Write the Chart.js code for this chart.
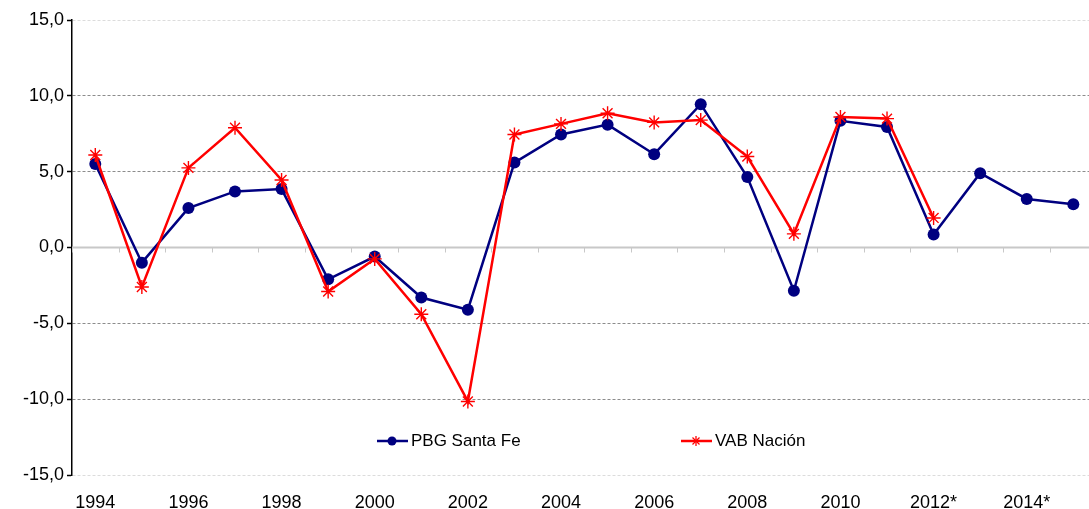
<!DOCTYPE html>
<html>
<head>
<meta charset="utf-8">
<script src="https://cdn.jsdelivr.net/npm/chart.js@4/dist/chart.umd.min.js"></script>
<style>
html,body{margin:0;padding:0;background:#fff;overflow:hidden;}
#wrap{position:relative;width:1105px;height:509px;}
.leg{position:absolute;top:431px;font:17px "Liberation Sans",Arial,sans-serif;color:#000;display:flex;align-items:center;white-space:nowrap;}
.leg svg{margin-right:3px;}
</style>
</head>
<body>
<div id="wrap">
  <canvas id="c" width="1105" height="509"></canvas>
  <div class="leg" style="left:377px"><svg width="31" height="20"><line x1="0" y1="10" x2="31" y2="10" stroke="#000080" stroke-width="2.5"/><circle cx="15" cy="10" r="4.5" fill="#000080"/></svg>PBG Santa Fe</div>
  <div class="leg" style="left:681px"><svg width="31" height="20"><line x1="0" y1="10" x2="31" y2="10" stroke="#ff0000" stroke-width="2.5"/><g stroke="#ff0000" stroke-width="1.3"><line x1="15" y1="5" x2="15" y2="15"/><line x1="10" y1="10" x2="20" y2="10"/><line x1="11.5" y1="6.5" x2="18.5" y2="13.5"/><line x1="11.5" y1="13.5" x2="18.5" y2="6.5"/></g></svg>VAB Nación</div>
</div>
<script>
const years = ['1994','1995','1996','1997','1998','1999','2000','2001','2002','2003','2004',
  '2005','2006','2007','2008','2009','2010','2011','2012*','2013*','2014*','2015*'];
const pbgSantaFe = [5.5,-1.0,2.6,3.7,3.85,-2.1,-0.6,-3.3,-4.1,5.6,7.45,
  8.1,6.15,9.45,4.65,-2.85,8.35,7.95,0.85,4.9,3.2,2.85];
const vabNacion = [6.1,-2.6,5.25,7.9,4.45,-2.9,-0.75,-4.4,-10.15,7.45,8.15,
  8.85,8.25,8.4,6.0,0.9,8.6,8.5,1.95,null,null,null];
const yTicks = [15,10,5,0,-5,-10,-15];

const FONT = '"Liberation Sans", Arial, sans-serif';

// zero axis line with small category tick marks (like Excel's crossing axis)
const zeroAxis = {
  id:'zeroAxis',
  beforeDatasetsDraw(chart){
    const ctx=chart.ctx, xs=chart.scales.x, ys=chart.scales.y;
    const y0=ys.getPixelForValue(0);
    ctx.save();
    ctx.strokeStyle='#c8c8c8';
    ctx.lineWidth=2;
    ctx.beginPath(); ctx.moveTo(xs.left,y0); ctx.lineTo(xs.right,y0); ctx.stroke();
    ctx.lineWidth=1;
    const n=years.length, w=xs.width/n;
    for(let i=0;i<=n;i++){
      const x=Math.round(xs.left+i*w)+0.5;
      ctx.beginPath(); ctx.moveTo(x,y0); ctx.lineTo(x,y0+5); ctx.stroke();
    }
    ctx.restore();
  }
};

new Chart(document.getElementById('c'),{
  type:'line',
  data:{
    labels:years,
    datasets:[
      {label:'PBG Santa Fe',data:pbgSantaFe,borderColor:'#000080',backgroundColor:'#000080',
        borderWidth:2.5,pointStyle:'circle',pointRadius:6,pointBorderWidth:0,tension:0,order:2},
      {label:'VAB Nación',data:vabNacion,borderColor:'#ff0000',backgroundColor:'#ff0000',
        borderWidth:2.5,pointStyle:'star',pointRadius:7,pointBorderWidth:1.4,tension:0,order:1}
    ]
  },
  options:{
    responsive:false,animation:false,
    layout:{padding:{top:20,right:3,left:0,bottom:0}},
    plugins:{legend:{display:false},tooltip:{enabled:false}},
    scales:{
      x:{
        offset:true,
        grid:{display:false,drawTicks:false},
        border:{display:false},
        ticks:{autoSkip:false,maxRotation:0,padding:17,color:'#000',font:{family:FONT,size:18},
          callback:function(v,i){ return i%2===0 ? years[i] : ''; }},
        afterFit:function(s){ s.height=34; }
      },
      y:{
        min:-15,max:15,
        afterBuildTicks:function(s){ s.ticks=yTicks.map(function(v){return {value:v};}); },
        grid:{
          color:function(c){ const v=c.tick&&c.tick.value; return v===0?'rgba(0,0,0,0)':(Math.abs(v)===15?'#dcdcdc':'#8c8c8c'); },
          lineWidth:1,drawTicks:true,tickLength:5,tickColor:'#000',tickWidth:1.5
        },
        border:{display:true,color:'#000',width:1.5,dash:[3,2]},
        ticks:{padding:3,color:'#000',font:{family:FONT,size:18},
          callback:function(v){ return v.toFixed(1).replace('.',','); }},
        afterFit:function(s){ s.width=72; }
      }
    }
  },
  plugins:[zeroAxis]
});
</script>
</body>
</html>
